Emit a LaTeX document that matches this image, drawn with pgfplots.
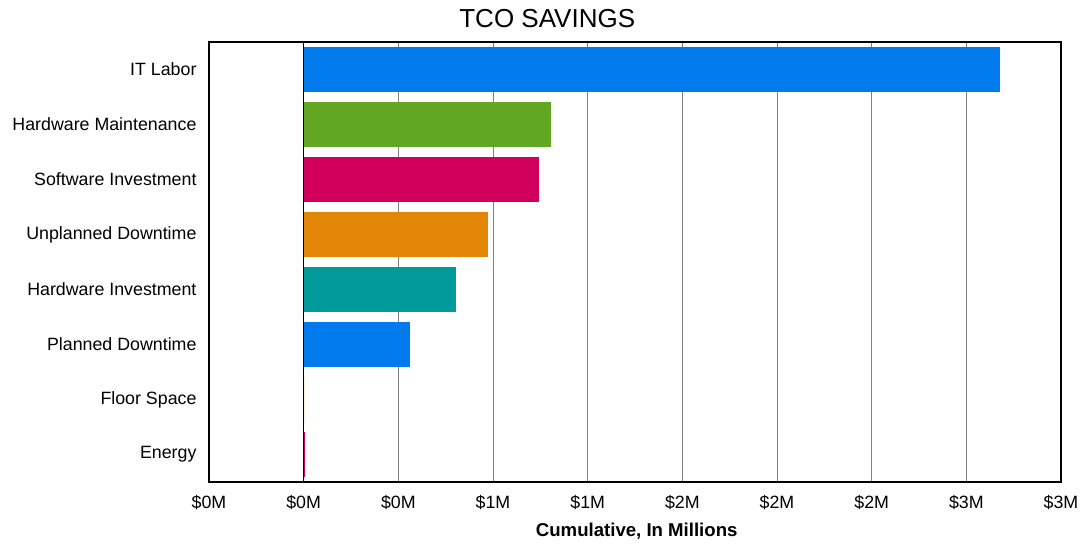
\documentclass[border=0pt]{standalone}
\usepackage{pgfplots}
\pgfplotsset{compat=1.18}
\usepackage{fontspec}
\setmainfont{Liberation Sans}
\definecolor{cblue}{HTML}{007AED}
\definecolor{cgreen}{HTML}{62A723}
\definecolor{cmag}{HTML}{D1005C}
\definecolor{corange}{HTML}{E38607}
\definecolor{cteal}{HTML}{009A9A}
\definecolor{cgrid}{HTML}{808080}
\begin{document}
\begin{tikzpicture}
\path[use as bounding box] (-209bp,-64bp) rectangle (875bp,482bp);
\begin{axis}[
  at={(0,0)}, anchor=south west,
  scale only axis, width=852bp, height=440bp,
  xbar, bar width=45bp,
  xmin=-0.4, xmax=3.2, ymin=-0.5, ymax=7.5,
  xtick={-0.4,0,0.4,0.8,1.2,1.6,2.0,2.4,2.8,3.2},
  xticklabels={\$0M,\$0M,\$0M,\$1M,\$1M,\$2M,\$2M,\$2M,\$3M,\$3M},
  ytick={0,1,2,3,4,5,6,7},
  yticklabels={Energy,Floor Space,Planned Downtime,Hardware Investment,Unplanned Downtime,Software Investment,Hardware Maintenance,IT Labor},
  major tick length=0pt,
  tick label style={font=\fontsize{17.8bp}{20bp}\selectfont},
  xticklabel style={anchor=base, yshift=-26bp},
  yticklabel style={xshift=-9bp},
  xmajorgrids, major grid style={cgrid, line width=0.9bp},
  axis line style={black, line width=1.1bp},
  title={TCO SAVINGS},
  title style={font=\fontsize{26bp}{30bp}\selectfont, anchor=base, at={(axis description cs:0.397,1)}, yshift=9bp},
  xlabel={\textbf{Cumulative, In Millions}},
  xlabel style={font=\fontsize{18.6bp}{21bp}\selectfont, anchor=base, at={(axis description cs:0.502,0)}, yshift=-54bp},
]
\addplot[fill=cblue, draw=none, bar shift=0pt] coordinates {(2.941,7)};
\addplot[fill=cgreen, draw=none, bar shift=0pt] coordinates {(1.044,6)};
\addplot[fill=cmag, draw=none, bar shift=0pt] coordinates {(0.993,5)};
\addplot[fill=corange, draw=none, bar shift=0pt] coordinates {(0.777,4)};
\addplot[fill=cteal, draw=none, bar shift=0pt] coordinates {(0.642,3)};
\addplot[fill=cblue, draw=none, bar shift=0pt] coordinates {(0.448,2)};
\addplot[fill=corange, draw=none, bar shift=0pt] coordinates {(0,1)};
\addplot[fill=cmag, draw=none, bar shift=0pt] coordinates {(0.004,0)};
\draw[black, line width=1.1bp] (axis cs:0,-0.5) -- (axis cs:0,7.5);
\end{axis}
\end{tikzpicture}
\end{document}
